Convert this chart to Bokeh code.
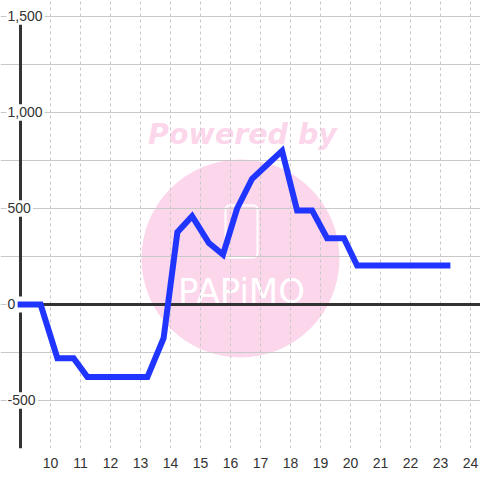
from bokeh.plotting import figure
from bokeh.models import FixedTicker, Range1d
from bokeh.core.properties import value
from bokeh.embed import file_html
from bokeh.resources import INLINE

# ---- data ----
hours = [9.0, 9.67, 10.23, 10.77, 11.23, 13.23, 13.77, 14.23, 14.72, 15.28,
         15.75, 16.22, 16.72, 17.22, 17.72, 18.22, 18.72, 19.22, 19.78, 20.22, 23.23]
values = [0, 0, -280, -280, -378, -378, -175, 377, 460, 320,
          260, 500, 655, 728, 800, 490, 490, 345, 345, 203, 203]
x_ticks = [10, 11, 12, 13, 14, 15, 16, 17, 18, 19, 20, 21, 22, 23, 24]
y_grid = [-750, -500, -250, 0, 250, 500, 750, 1000, 1250, 1500]
y_label_vals = [1500, 1000, 500, 0, -500]
y_label_text = ["1,500", "1,000", "500", "0", "-500"]

X0, X1 = 8.3333, 24.3333
Y0, Y1 = -750, 1583.33
AXIS_X = 9.0
LABEL_X = 8.5667
PX_X = (X1 - X0) / 480.0
PX_Y = (Y1 - Y0) / 448.0

p = figure(frame_width=480, frame_height=448, output_backend="svg",
           toolbar_location=None, x_range=Range1d(X0, X1), y_range=Range1d(Y0, Y1),
           min_border_left=0, min_border_right=0, min_border_top=0, min_border_bottom=0)
p.outline_line_color = None
p.background_fill_color = "white"
p.border_fill_color = "white"

# watermark
p.scatter(x=[16.333], y=[239.6], size=198, marker="circle",
          fill_color="#fcd6eb", line_color=None, level="image")
p.text(x=[16.4], y=[885], text=["Powered by"], text_align="center",
       text_baseline="alphabetic", text_font=value("DejaVu Sans"),
       text_font_style="bold italic", text_font_size="28.5px",
       text_color="#fcd6eb", level="image")
p.rect(x=[16.367], y=[380.2], width=32, height=52, width_units="screen",
       height_units="screen", fill_color=None, line_color="white",
       line_width=2, border_radius=4, level="image")
p.text(x=[16.367], y=[72], text=["PAPiMO"], text_align="center",
       text_baseline="alphabetic", text_font=value("DejaVu Sans"),
       text_font_size="34px", text_color="white", level="image")

# grids
p.xgrid.ticker = FixedTicker(ticks=x_ticks)
p.xgrid.grid_line_color = "#c8c8c8"
p.xgrid.grid_line_dash = "3 3"
p.ygrid.ticker = FixedTicker(ticks=y_grid)
p.ygrid.grid_line_color = "#c8c8c8"
p.ygrid.bounds = (AXIS_X, 30)

# axes
p.yaxis.visible = False
p.xaxis.ticker = FixedTicker(ticks=x_ticks)
p.xaxis.axis_line_color = None
p.xaxis.major_tick_line_color = None
p.xaxis.minor_tick_line_color = None
p.xaxis.major_label_standoff = 3
p.xaxis.major_label_text_font = "Liberation Sans"
p.xaxis.major_label_text_font_size = "14px"
p.xaxis.major_label_text_color = "#333333"

# label boxes (white backing) derived from the tick values
def text_px(t):
    w = 0.0
    for ch in t:
        w += 3.9 if ch == "," else (4.7 if ch == "-" else 7.8)
    return w + 2

HALF = 8 * PX_Y
lefts = [LABEL_X - PX_X for _ in y_label_text]
rights = [LABEL_X + text_px(t) * PX_X for t in y_label_text]
tops = [v + HALF for v in y_label_vals]
bottoms = [v - HALF for v in y_label_vals]

# zero line
p.ray(x=[AXIS_X], y=[0], length=0, angle=0, line_color="#333333", line_width=3)

# y axis line, broken where the tick labels sit; it starts below the top label
seg_y0 = [Y0] + sorted(tops)[:-1]
seg_y1 = sorted(bottoms)
p.segment(x0=[AXIS_X] * len(seg_y0), y0=seg_y0,
          x1=[AXIS_X] * len(seg_y0), y1=seg_y1,
          line_color="#333333", line_width=3)

# data line
p.line(hours, values, line_color="#2035ff", line_width=6,
       line_join="miter", line_cap="square")

# y labels
p.quad(left=lefts, right=rights, top=tops, bottom=bottoms,
       fill_color="white", line_color=None)
p.text(x=[LABEL_X] * len(y_label_vals), y=y_label_vals, text=y_label_text,
       text_align="left", text_baseline="middle",
       text_font=value("Liberation Sans"), text_font_size="14px",
       text_color="#333333")

open("out.html", "w").write(file_html(p, INLINE))
